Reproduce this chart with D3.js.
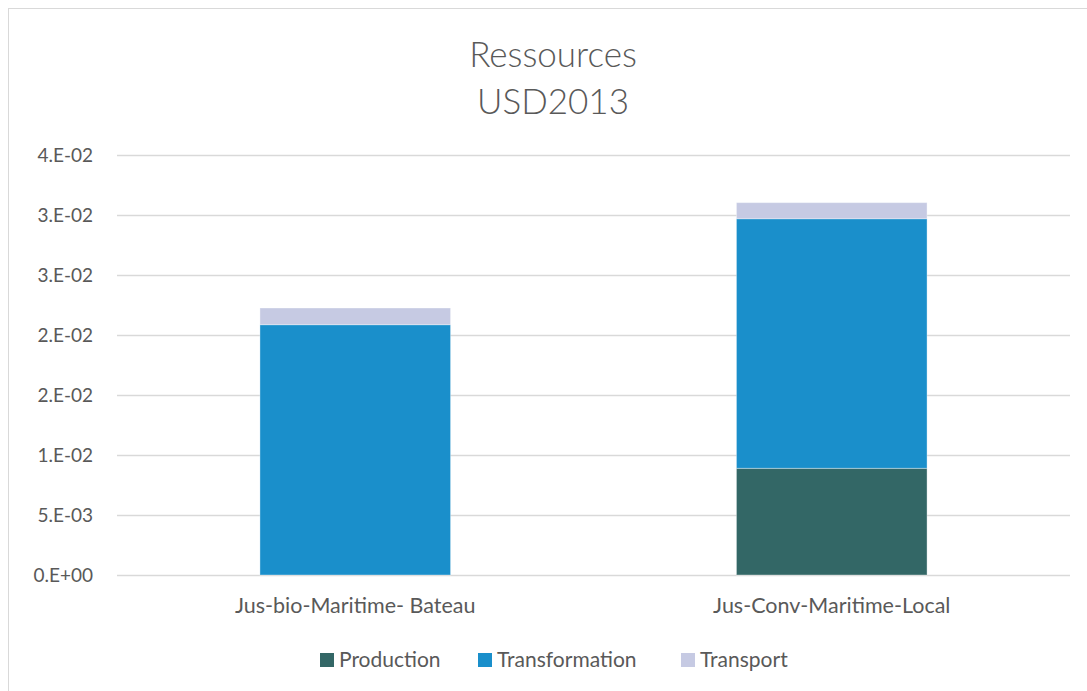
<!DOCTYPE html>
<html>
<head>
<meta charset="utf-8">
<script src="https://cdn.jsdelivr.net/npm/d3@7"></script>
<style>
  body { margin: 0; background: #fff; }
  text { font-family: Lato, "Open Sans", sans-serif; fill: #595959; }
</style>
</head>
<body>
<div id="chart"></div>
<script>
// data
var categories = ["Jus-bio-Maritime- Bateau", "Jus-Conv-Maritime-Local"]
var seriesNames = ["Production", "Transformation", "Transport"]
var production = [0, 0.00889]
var transformation = [0.02086, 0.0208]
var transport = [0.00139, 0.00134]
var tickValues = [0, 0.005, 0.01, 0.015, 0.02, 0.025, 0.03, 0.035]
var tickLabels = ["0.E+00", "5.E-03", "1.E-02", "2.E-02", "2.E-02", "3.E-02", "3.E-02", "4.E-02"]
var colors = ["#336766", "#1A8FCB", "#C6CAE3"]

var width = 1087, height = 691
var margin = {top: 155, right: 17, bottom: 116, left: 117}

var svg = d3.select("#chart").append("svg")
  .attr("width", width)
  .attr("height", height)

// chart area border
svg.append("rect")
  .attr("x", 8.5).attr("y", 8.5)
  .attr("width", width + 20).attr("height", height + 20)
  .attr("fill", "none")
  .attr("stroke", "#D9D9D9")

var x = d3.scaleBand()
  .domain(categories)
  .range([margin.left, width - margin.right])
  .paddingInner(0.6)
  .paddingOuter(0.3)

var y = d3.scaleLinear()
  .domain([0, 0.035])
  .range([height - margin.bottom, margin.top])

// gridlines
svg.append("g")
  .selectAll("line")
  .data(tickValues)
  .join("line")
    .attr("x1", margin.left)
    .attr("x2", width - margin.right)
    .attr("y1", d => Math.round(y(d)) + 0.5)
    .attr("y2", d => Math.round(y(d)) + 0.5)
    .attr("stroke", "#D9D9D9")
    .attr("stroke-width", 1.3)

// y axis labels
var yAxis = svg.append("g")
  .attr("transform", `translate(${margin.left},0)`)
  .call(d3.axisLeft(y).tickValues(tickValues).tickSize(0).tickPadding(24)
    .tickFormat((d, i) => tickLabels[i]))
yAxis.select(".domain").remove()
yAxis.selectAll("text")
  .style("font-size", "19px")
  .style("font-family", "Lato, sans-serif")
  .attr("fill", "#595959")

// x axis labels
var xAxis = svg.append("g")
  .attr("transform", `translate(0,${height - margin.bottom})`)
  .call(d3.axisBottom(x).tickSize(0).tickPadding(23))
xAxis.select(".domain").remove()
xAxis.selectAll("text")
  .style("font-size", "21.5px")
  .style("font-family", "Lato, sans-serif")
  .attr("fill", "#595959")

// stacked bars
var rows = categories.map((c, i) => ({cat: c, Production: production[i],
  Transformation: transformation[i], Transport: transport[i]}))
var stacked = d3.stack().keys(seriesNames)(rows)

svg.append("g")
  .selectAll("g")
  .data(stacked)
  .join("g")
    .attr("fill", (d, i) => colors[i])
  .selectAll("rect")
  .data(d => d.filter(p => p[1] - p[0] > 0))
  .join("rect")
    .attr("x", d => x(d.data.cat))
    .attr("width", x.bandwidth())
    .attr("y", d => y(d[1]))
    .attr("height", d => y(d[0]) - y(d[1]))
    .attr("stroke", "#ffffff")
    .attr("stroke-opacity", 0.35)
    .attr("stroke-width", 1)

// title
svg.append("text")
  .attr("x", 553).attr("y", 67)
  .attr("text-anchor", "middle")
  .style("font-size", "35px")
  .style("font-weight", 300)
  .text("Ressources")
svg.append("text")
  .attr("x", 553).attr("y", 114)
  .attr("text-anchor", "middle")
  .style("font-size", "35px")
  .style("font-weight", 300)
  .text("USD2013")

// legend
var legendX = [320, 478, 681]
var legend = svg.append("g")
seriesNames.forEach(function(name, i){
  legend.append("rect")
    .attr("x", legendX[i]).attr("y", 653)
    .attr("width", 14).attr("height", 14)
    .attr("fill", colors[i])
  legend.append("text")
    .attr("x", legendX[i] + 19).attr("y", 667)
    .style("font-size", "21px")
    .text(name)
})
</script>
</body>
</html>
